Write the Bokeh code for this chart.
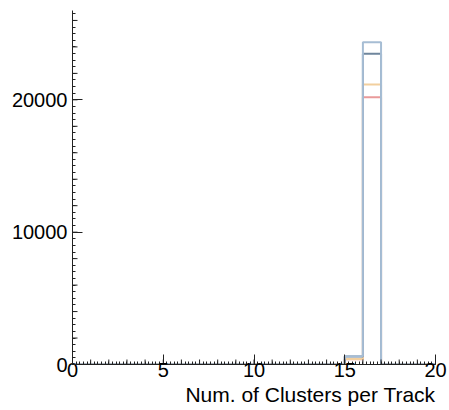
from bokeh.plotting import figure
from bokeh.models import FixedTicker, Range1d, Title
from bokeh.embed import file_html
from bokeh.resources import INLINE

# Histogram binning: 20 unit-wide bins from 0 to 20
bin_edges = list(range(0, 21))

# Bin contents per sample (bins 0..19); only bins 15 and 16 are populated
counts_blue = [0] * 15 + [630, 24350, 0, 0, 0]
counts_slate = [0] * 15 + [600, 23480, 0, 0, 0]
counts_orange = [0] * 15 + [420, 21150, 0, 0, 0]
counts_red = [0] * 15 + [400, 20200, 0, 0, 0]

x_ticks = [0, 5, 10, 15, 20]
y_ticks = [0, 10000, 20000]
x_title = "Num. of Clusters per Track"

Y_MAX = 26750
FONT = "Liberation Sans"

p = figure(
    width=449, height=410,
    output_backend="svg", toolbar_location=None,
    x_range=Range1d(0, 20), y_range=Range1d(0, Y_MAX),
    min_border_left=72, min_border_right=14,
    min_border_top=10, min_border_bottom=46,
)
p.outline_line_color = None
p.grid.visible = False
p.background_fill_color = "white"
p.border_fill_color = "white"

# Outline histograms, drawn so the widest one ends up on top
series = [
    (counts_red, "#e99a9a"),
    (counts_orange, "#f2cf9e"),
    (counts_slate, "#6f869d"),
    (counts_blue, "#a6bdd4"),
]
for counts, color in series:
    p.step(x=bin_edges, y=counts + [0], mode="after",
           line_color=color, line_width=2)

# Axes: ticks point into the frame
for ax in (p.xaxis[0], p.yaxis[0]):
    ax.axis_line_color = "#222222"
    ax.major_tick_line_color = "#222222"
    ax.minor_tick_line_color = "#222222"
    ax.major_tick_in = 10
    ax.major_tick_out = 0
    ax.minor_tick_in = 3
    ax.minor_tick_out = 0
    ax.major_label_text_font = FONT
    ax.major_label_text_font_size = "20px"
    ax.major_label_text_color = "black"

xax = p.xaxis[0]
xax.ticker = FixedTicker(
    ticks=x_ticks, minor_ticks=[i * 0.2 for i in range(101)])
xax.major_label_standoff = -2

yax = p.yaxis[0]
yax.ticker = FixedTicker(
    ticks=y_ticks, minor_ticks=list(range(0, Y_MAX, 500)))
yax.major_label_standoff = 5
yax.major_label_overrides = {t: str(t) for t in y_ticks}

# Right-aligned x-axis title under the tick labels
p.add_layout(Title(
    text=x_title, align="right", standoff=2, offset=0,
    text_font=FONT, text_font_size="21px", text_font_style="normal",
    text_color="black"), "below")

# Intermediate tick level (every unit on x, every 2000 on y)
frame_w = 449 - 72 - 14
frame_h = 410 - 10 - 46
x_mid = list(range(0, 21))
y_mid = list(range(0, Y_MAX, 2000))
p.segment(x0=x_mid, y0=[0] * len(x_mid), x1=x_mid,
          y1=[5 * Y_MAX / frame_h] * len(x_mid), line_color="#222222")
p.segment(x0=[0] * len(y_mid), y0=y_mid, x1=[5 * 20 / frame_w] * len(y_mid),
          y1=y_mid, line_color="#222222")

open("out.html", "w").write(file_html(p, INLINE))
